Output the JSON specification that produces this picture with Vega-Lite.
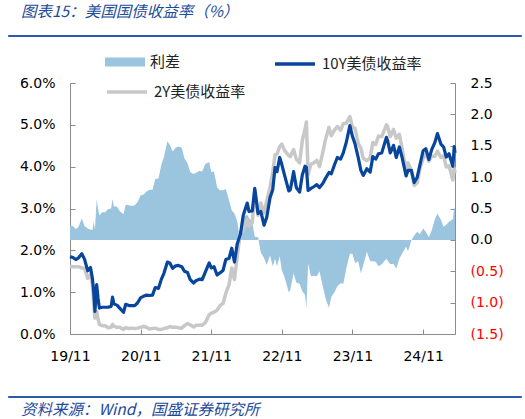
{
  "$schema": "https://vega.github.io/schema/vega-lite/v6.json",
  "padding": {"left": 5, "top": 4, "right": 2, "bottom": 2},
  "background": "white",
  "config": {
    "view": {"stroke": null},
    "axis": {"grid": false, "domainColor": "#8C8C8C", "tickColor": "#8C8C8C", "tickSize": -5, "labelFont": "DejaVu Sans", "labelFontSize": 14, "labelColor": "#000000", "title": null},
    "legend": {"labelFont": "Noto Sans CJK SC", "labelFontSize": 15, "labelColor": "#222222", "padding": 0, "rowPadding": 0, "labelOffset": 5, "title": null}
  },
  "spacing": 30,
  "vconcat": [
    {
      "spacing": 3,
      "vconcat": [
        {
          "width": 513, "height": 1,
          "data": {"values": [{}]},
          "mark": {"type": "point", "opacity": 0},
          "view": {"stroke": "#2B5AAA", "strokeWidth": 1, "fill": "#2B5AAA"},
          "title": {"text": "图表15：美国国债收益率（%）", "anchor": "start", "dx": 13, "offset": 12, "font": "Noto Sans CJK SC", "fontSize": 15.5, "fontStyle": "italic", "fontWeight": "normal", "color": "#1D4B9B"}
        },
        {
          "spacing": 7,
          "hconcat": [
            {"width": 1, "height": 1, "data": {"values": [{}]}, "mark": {"type": "point", "opacity": 0}},
            {
              "width": 385, "height": 251,
              "data": {"values": [
{"date":"2019-11-01","y10":1.85,"y2":1.62,"spread":0.23},
{"date":"2019-11-15","y10":1.83,"y2":1.61,"spread":0.22},
{"date":"2019-12-01","y10":1.78,"y2":1.61,"spread":0.17},
{"date":"2019-12-15","y10":1.82,"y2":1.61,"spread":0.21},
{"date":"2020-01-01","y10":1.92,"y2":1.58,"spread":0.34},
{"date":"2020-01-15","y10":1.79,"y2":1.57,"spread":0.22},
{"date":"2020-02-01","y10":1.51,"y2":1.33,"spread":0.18},
{"date":"2020-02-15","y10":1.59,"y2":1.43,"spread":0.16},
{"date":"2020-02-25","y10":1.33,"y2":1.17,"spread":0.16},
{"date":"2020-03-03","y10":1.00,"y2":0.71,"spread":0.29},
{"date":"2020-03-09","y10":0.54,"y2":0.38,"spread":0.16},
{"date":"2020-03-18","y10":1.18,"y2":0.54,"spread":0.64},
{"date":"2020-03-25","y10":0.86,"y2":0.36,"spread":0.50},
{"date":"2020-04-01","y10":0.62,"y2":0.23,"spread":0.39},
{"date":"2020-04-15","y10":0.64,"y2":0.20,"spread":0.44},
{"date":"2020-05-01","y10":0.64,"y2":0.20,"spread":0.44},
{"date":"2020-05-15","y10":0.64,"y2":0.15,"spread":0.49},
{"date":"2020-06-01","y10":0.66,"y2":0.16,"spread":0.50},
{"date":"2020-06-08","y10":0.88,"y2":0.23,"spread":0.65},
{"date":"2020-06-15","y10":0.72,"y2":0.19,"spread":0.53},
{"date":"2020-07-01","y10":0.69,"y2":0.16,"spread":0.53},
{"date":"2020-07-15","y10":0.62,"y2":0.16,"spread":0.46},
{"date":"2020-08-04","y10":0.52,"y2":0.11,"spread":0.41},
{"date":"2020-08-15","y10":0.71,"y2":0.15,"spread":0.56},
{"date":"2020-09-01","y10":0.68,"y2":0.13,"spread":0.55},
{"date":"2020-09-15","y10":0.68,"y2":0.14,"spread":0.54},
{"date":"2020-10-01","y10":0.68,"y2":0.13,"spread":0.55},
{"date":"2020-10-15","y10":0.74,"y2":0.14,"spread":0.60},
{"date":"2020-11-01","y10":0.87,"y2":0.16,"spread":0.71},
{"date":"2020-11-15","y10":0.90,"y2":0.18,"spread":0.72},
{"date":"2020-12-01","y10":0.93,"y2":0.16,"spread":0.77},
{"date":"2020-12-15","y10":0.92,"y2":0.12,"spread":0.80},
{"date":"2021-01-01","y10":0.93,"y2":0.13,"spread":0.80},
{"date":"2021-01-15","y10":1.11,"y2":0.14,"spread":0.97},
{"date":"2021-02-01","y10":1.09,"y2":0.11,"spread":0.98},
{"date":"2021-02-15","y10":1.30,"y2":0.11,"spread":1.19},
{"date":"2021-03-01","y10":1.45,"y2":0.13,"spread":1.32},
{"date":"2021-03-19","y10":1.72,"y2":0.15,"spread":1.57},
{"date":"2021-04-01","y10":1.69,"y2":0.18,"spread":1.51},
{"date":"2021-04-15","y10":1.57,"y2":0.16,"spread":1.41},
{"date":"2021-05-01","y10":1.63,"y2":0.16,"spread":1.47},
{"date":"2021-05-15","y10":1.64,"y2":0.15,"spread":1.49},
{"date":"2021-06-01","y10":1.61,"y2":0.14,"spread":1.47},
{"date":"2021-06-15","y10":1.50,"y2":0.20,"spread":1.30},
{"date":"2021-07-01","y10":1.47,"y2":0.25,"spread":1.22},
{"date":"2021-07-15","y10":1.30,"y2":0.22,"spread":1.08},
{"date":"2021-08-01","y10":1.22,"y2":0.17,"spread":1.05},
{"date":"2021-08-15","y10":1.28,"y2":0.21,"spread":1.07},
{"date":"2021-09-01","y10":1.31,"y2":0.21,"spread":1.10},
{"date":"2021-09-15","y10":1.30,"y2":0.21,"spread":1.09},
{"date":"2021-10-01","y10":1.48,"y2":0.27,"spread":1.21},
{"date":"2021-10-21","y10":1.70,"y2":0.46,"spread":1.24},
{"date":"2021-11-01","y10":1.58,"y2":0.50,"spread":1.08},
{"date":"2021-11-15","y10":1.61,"y2":0.52,"spread":1.09},
{"date":"2021-12-01","y10":1.41,"y2":0.57,"spread":0.84},
{"date":"2021-12-15","y10":1.46,"y2":0.67,"spread":0.79},
{"date":"2022-01-01","y10":1.52,"y2":0.73,"spread":0.79},
{"date":"2022-01-15","y10":1.78,"y2":0.97,"spread":0.81},
{"date":"2022-02-01","y10":1.81,"y2":1.18,"spread":0.63},
{"date":"2022-02-15","y10":2.05,"y2":1.58,"spread":0.47},
{"date":"2022-03-01","y10":1.72,"y2":1.30,"spread":0.42},
{"date":"2022-03-15","y10":2.15,"y2":1.85,"spread":0.30},
{"date":"2022-04-01","y10":2.39,"y2":2.44,"spread":-0.05},
{"date":"2022-04-15","y10":2.83,"y2":2.46,"spread":0.37},
{"date":"2022-05-06","y10":3.13,"y2":2.73,"spread":0.40},
{"date":"2022-05-15","y10":2.93,"y2":2.58,"spread":0.35},
{"date":"2022-06-01","y10":2.94,"y2":2.66,"spread":0.28},
{"date":"2022-06-14","y10":3.48,"y2":3.43,"spread":0.05},
{"date":"2022-07-01","y10":2.88,"y2":2.84,"spread":0.04},
{"date":"2022-07-15","y10":2.93,"y2":3.13,"spread":-0.20},
{"date":"2022-08-01","y10":2.60,"y2":2.89,"spread":-0.29},
{"date":"2022-08-15","y10":2.79,"y2":3.19,"spread":-0.40},
{"date":"2022-09-01","y10":3.26,"y2":3.51,"spread":-0.25},
{"date":"2022-09-15","y10":3.45,"y2":3.87,"spread":-0.42},
{"date":"2022-09-27","y10":3.98,"y2":4.28,"spread":-0.30},
{"date":"2022-10-07","y10":3.88,"y2":4.30,"spread":-0.42},
{"date":"2022-10-21","y10":4.22,"y2":4.48,"spread":-0.26},
{"date":"2022-11-01","y10":4.05,"y2":4.54,"spread":-0.49},
{"date":"2022-11-15","y10":3.80,"y2":4.39,"spread":-0.59},
{"date":"2022-12-07","y10":3.42,"y2":4.26,"spread":-0.84},
{"date":"2022-12-15","y10":3.45,"y2":4.24,"spread":-0.79},
{"date":"2023-01-01","y10":3.88,"y2":4.41,"spread":-0.53},
{"date":"2023-01-15","y10":3.50,"y2":4.18,"spread":-0.68},
{"date":"2023-02-01","y10":3.39,"y2":4.09,"spread":-0.70},
{"date":"2023-02-15","y10":3.80,"y2":4.62,"spread":-0.82},
{"date":"2023-03-01","y10":4.01,"y2":4.89,"spread":-0.88},
{"date":"2023-03-08","y10":3.98,"y2":5.07,"spread":-1.09},
{"date":"2023-03-17","y10":3.43,"y2":3.81,"spread":-0.38},
{"date":"2023-04-01","y10":3.48,"y2":4.06,"spread":-0.58},
{"date":"2023-04-15","y10":3.52,"y2":4.09,"spread":-0.57},
{"date":"2023-05-01","y10":3.57,"y2":4.15,"spread":-0.58},
{"date":"2023-05-15","y10":3.50,"y2":4.00,"spread":-0.50},
{"date":"2023-06-01","y10":3.60,"y2":4.34,"spread":-0.74},
{"date":"2023-06-15","y10":3.72,"y2":4.65,"spread":-0.93},
{"date":"2023-07-03","y10":3.86,"y2":4.94,"spread":-1.08},
{"date":"2023-07-15","y10":3.83,"y2":4.74,"spread":-0.91},
{"date":"2023-08-01","y10":4.05,"y2":4.88,"spread":-0.83},
{"date":"2023-08-15","y10":4.22,"y2":4.96,"spread":-0.74},
{"date":"2023-09-01","y10":4.18,"y2":4.87,"spread":-0.69},
{"date":"2023-09-15","y10":4.33,"y2":5.03,"spread":-0.70},
{"date":"2023-10-01","y10":4.59,"y2":5.04,"spread":-0.45},
{"date":"2023-10-19","y10":4.98,"y2":5.20,"spread":-0.22},
{"date":"2023-11-01","y10":4.73,"y2":4.95,"spread":-0.22},
{"date":"2023-11-15","y10":4.54,"y2":4.91,"spread":-0.37},
{"date":"2023-12-01","y10":4.22,"y2":4.56,"spread":-0.34},
{"date":"2023-12-15","y10":3.91,"y2":4.44,"spread":-0.53},
{"date":"2023-12-27","y10":3.79,"y2":4.20,"spread":-0.41},
{"date":"2024-01-15","y10":3.95,"y2":4.14,"spread":-0.19},
{"date":"2024-02-01","y10":3.87,"y2":4.21,"spread":-0.34},
{"date":"2024-02-15","y10":4.24,"y2":4.58,"spread":-0.34},
{"date":"2024-03-01","y10":4.18,"y2":4.53,"spread":-0.35},
{"date":"2024-03-15","y10":4.31,"y2":4.73,"spread":-0.42},
{"date":"2024-04-01","y10":4.33,"y2":4.72,"spread":-0.39},
{"date":"2024-04-25","y10":4.70,"y2":5.00,"spread":-0.30},
{"date":"2024-05-01","y10":4.63,"y2":4.96,"spread":-0.33},
{"date":"2024-05-15","y10":4.33,"y2":4.72,"spread":-0.39},
{"date":"2024-06-01","y10":4.51,"y2":4.89,"spread":-0.38},
{"date":"2024-06-15","y10":4.22,"y2":4.68,"spread":-0.46},
{"date":"2024-07-01","y10":4.47,"y2":4.77,"spread":-0.30},
{"date":"2024-07-15","y10":4.23,"y2":4.45,"spread":-0.22},
{"date":"2024-08-05","y10":3.78,"y2":3.89,"spread":-0.11},
{"date":"2024-08-15","y10":3.91,"y2":4.09,"spread":-0.18},
{"date":"2024-09-01","y10":3.91,"y2":3.92,"spread":-0.01},
{"date":"2024-09-16","y10":3.62,"y2":3.55,"spread":0.07},
{"date":"2024-10-01","y10":3.74,"y2":3.61,"spread":0.13},
{"date":"2024-10-15","y10":4.03,"y2":3.94,"spread":0.09},
{"date":"2024-11-01","y10":4.38,"y2":4.20,"spread":0.18},
{"date":"2024-11-15","y10":4.43,"y2":4.30,"spread":0.13},
{"date":"2024-12-01","y10":4.17,"y2":4.13,"spread":0.04},
{"date":"2024-12-15","y10":4.40,"y2":4.25,"spread":0.15},
{"date":"2025-01-01","y10":4.58,"y2":4.25,"spread":0.33},
{"date":"2025-01-14","y10":4.79,"y2":4.37,"spread":0.42},
{"date":"2025-02-01","y10":4.54,"y2":4.22,"spread":0.32},
{"date":"2025-02-15","y10":4.47,"y2":4.26,"spread":0.21},
{"date":"2025-03-01","y10":4.23,"y2":3.99,"spread":0.24},
{"date":"2025-03-15","y10":4.31,"y2":4.02,"spread":0.29},
{"date":"2025-04-04","y10":4.01,"y2":3.68,"spread":0.33},
{"date":"2025-04-11","y10":4.48,"y2":3.96,"spread":0.52},
{"date":"2025-04-15","y10":4.33,"y2":3.85,"spread":0.48}
              ]},
              "layer": [
                {
                  "mark": {"type": "area", "interpolate": "linear"},
                  "encoding": {
                    "x": {"field": "date", "type": "temporal",
                          "scale": {"domain": [{"year": 2019, "month": 11, "date": 1, "utc": true}, {"year": 2025, "month": 4, "date": 15, "utc": true}]},
                          "axis": {"values": [{"year": 2019, "month": 11, "date": 1, "utc": true}, {"year": 2020, "month": 11, "date": 1, "utc": true}, {"year": 2021, "month": 11, "date": 1, "utc": true}, {"year": 2022, "month": 11, "date": 1, "utc": true}, {"year": 2023, "month": 11, "date": 1, "utc": true}, {"year": 2024, "month": 11, "date": 1, "utc": true}],
                                   "labelExpr": "utcFormat(datum.value, '%y/%m')", "labelFlush": false, "labelOverlap": false, "labelPadding": 20}},
                    "y": {"field": "spread", "type": "quantitative", "scale": {"domain": [-1.5, 2.5], "zero": false, "nice": false},
                          "axis": {"orient": "right", "values": [-1.5, -1, -0.5, 0, 0.5, 1, 1.5, 2, 2.5], "labelPadding": 20,
                                   "labelExpr": "datum.value < 0 ? '(' + format(-datum.value, '.1f') + ')' : format(datum.value, '.1f')",
                                   "labelColor": {"condition": {"test": "datum.value < 0", "value": "#FF0000"}, "value": "#000000"}}},
                    "y2": {"datum": 0},
                    "color": {"datum": "利差", "type": "nominal", "scale": {"range": ["#9BC4DF"]},
                              "legend": {"orient": "none", "legendX": 35, "legendY": -41, "symbolType": "M-1,-0.22H1V0.22H-1Z", "symbolSize": 1600, "symbolStrokeWidth": 0}}
                  }
                },
                {
                  "mark": {"type": "line", "strokeWidth": 3.5, "strokeJoin": "round"},
                  "encoding": {
                    "x": {"field": "date", "type": "temporal"},
                    "y": {"field": "y2", "type": "quantitative", "scale": {"domain": [0, 6], "nice": false}, "axis": null},
                    "color": {"datum": "2Y美债收益率", "type": "nominal", "scale": {"range": ["#C8C8C8"]},
                              "legend": {"orient": "none", "legendX": 35, "legendY": -13, "symbolType": "stroke", "symbolSize": 1600, "symbolStrokeWidth": 3.5}}
                  }
                },
                {
                  "mark": {"type": "line", "strokeWidth": 3.2, "strokeJoin": "round"},
                  "encoding": {
                    "x": {"field": "date", "type": "temporal"},
                    "y": {"field": "y10", "type": "quantitative", "scale": {"domain": [0, 6], "nice": false},
                          "axis": {"orient": "left", "values": [0, 1, 2, 3, 4, 5, 6], "labelPadding": 20, "labelExpr": "format(datum.value, '.1f') + '%'"}},
                    "color": {"datum": "10Y美债收益率", "type": "nominal", "scale": {"range": ["#08459C"]},
                              "legend": {"orient": "none", "legendX": 203, "legendY": -41, "symbolType": "stroke", "symbolSize": 1600, "symbolStrokeWidth": 3.5}}
                  }
                }
              ],
              "resolve": {"scale": {"y": "independent", "color": "independent"}, "legend": {"color": "independent"}}
            }
          ]
        }
      ]
    },
    {
      "width": 513, "height": 1,
      "data": {"values": [{}]},
      "mark": {"type": "point", "opacity": 0},
      "view": {"stroke": "#2B5AAA", "strokeWidth": 1, "fill": "#2B5AAA"},
      "title": {"text": "资料来源：Wind，国盛证券研究所", "orient": "bottom", "anchor": "start", "dx": 13, "offset": 4, "font": "Noto Sans CJK SC", "fontSize": 15.5, "fontStyle": "italic", "fontWeight": "normal", "color": "#1D4B9B"}
    }
  ]
}
